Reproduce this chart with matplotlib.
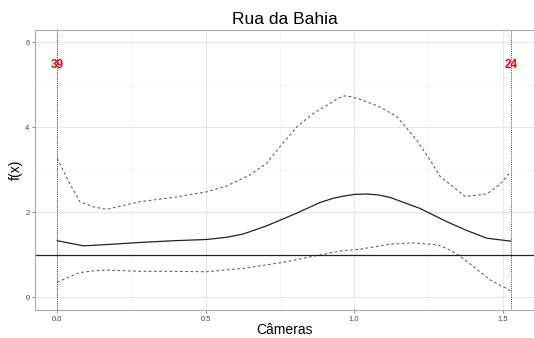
import numpy as np
import matplotlib.pyplot as plt
from matplotlib.ticker import MultipleLocator

plt.rcParams['font.family'] = ['Liberation Sans', 'DejaVu Sans']

# curve
x_mid = [0.0, 0.088, 0.166, 0.279, 0.391, 0.503, 0.570, 0.627, 0.705, 0.807, 0.885,
         0.930, 0.964, 1.000, 1.042, 1.080, 1.121, 1.222, 1.312, 1.380, 1.447, 1.528]
y_mid = [1.33, 1.21, 1.24, 1.29, 1.33, 1.36, 1.41, 1.49, 1.68, 1.98, 2.23,
         2.33, 2.38, 2.42, 2.43, 2.41, 2.35, 2.09, 1.78, 1.57, 1.39, 1.32]

x_up = [0.0, 0.040, 0.076, 0.120, 0.166, 0.279, 0.391, 0.503, 0.571, 0.649, 0.705,
        0.750, 0.807, 0.863, 0.919, 0.945, 0.967, 0.990, 1.020, 1.087, 1.144, 1.211,
        1.256, 1.290, 1.334, 1.374, 1.410, 1.447, 1.490, 1.528]
y_up = [3.27, 2.70, 2.25, 2.13, 2.07, 2.25, 2.35, 2.48, 2.62, 2.88, 3.15,
        3.54, 4.01, 4.33, 4.56, 4.68, 4.74, 4.72, 4.66, 4.48, 4.25, 3.70,
        3.23, 2.84, 2.60, 2.37, 2.40, 2.43, 2.65, 2.96]

x_lo = [0.0, 0.040, 0.076, 0.120, 0.166, 0.279, 0.391, 0.503, 0.627, 0.750, 0.874,
        0.953, 1.020, 1.121, 1.200, 1.284, 1.320, 1.357, 1.402, 1.458, 1.528]
y_lo = [0.35, 0.48, 0.58, 0.62, 0.64, 0.61, 0.61, 0.60, 0.68, 0.81, 0.98,
        1.09, 1.13, 1.25, 1.28, 1.23, 1.12, 0.97, 0.72, 0.41, 0.15]

ref_level = 1.0
vlines_x = [0.0, 1.528]
counts = ['39', '24']
count_y = 5.47

fig = plt.figure(figsize=(5.34, 3.38), dpi=100)
ax = fig.add_axes([35/534, 1 - 310/338, (534 - 35)/534, (310 - 30)/338])

dash_kw = dict(linestyle='--', color='#555555', linewidth=0.75, dashes=(2.5, 2.5))
ax.plot(x_up, y_up, **dash_kw)
ax.plot(x_lo, y_lo, **dash_kw)
ax.plot(x_mid, y_mid, '-', color='#222222', linewidth=0.9)
ax.axhline(ref_level, color='#222222', linewidth=0.9)
for xv, c in zip(vlines_x, counts):
    ax.axvline(xv, color='#444444', linewidth=0.7, linestyle=(0, (1, 1.2)))
    ax.text(xv, count_y, c, color='#ee0000', fontsize=8.5, fontweight='bold',
            ha='center', va='center')

ax.set_xlim(-0.075, 1.606)
ax.set_ylim(-0.30, 6.29)
ax.xaxis.set_minor_locator(MultipleLocator(0.25))
ax.yaxis.set_major_locator(MultipleLocator(2))
ax.yaxis.set_minor_locator(MultipleLocator(1))
ax.set_xticks([0, 0.5, 1.0, 1.5])
ax.set_xticklabels(['0.0', '0.5', '1.0', '1.5'])
ax.grid(which='major', color='#e6e6e6', linewidth=0.8)
ax.grid(which='minor', color='#f4f4f4', linewidth=0.6)
ax.set_axisbelow(True)
ax.tick_params(which='major', labelsize=5.5, length=2, width=0.5, color='#555555',
               labelcolor='#444444', pad=2)
ax.tick_params(which='minor', length=0)
for s in ax.spines.values():
    s.set_color('#aaaaaa')
    s.set_linewidth(0.8)

ax.set_xlabel('Câmeras', fontsize=10, labelpad=0)
ax.set_ylabel('f(x)', fontsize=10, labelpad=2)
ax.set_title('Rua da Bahia', fontsize=12.5, pad=4)

plt.savefig('out.png', dpi=100)
